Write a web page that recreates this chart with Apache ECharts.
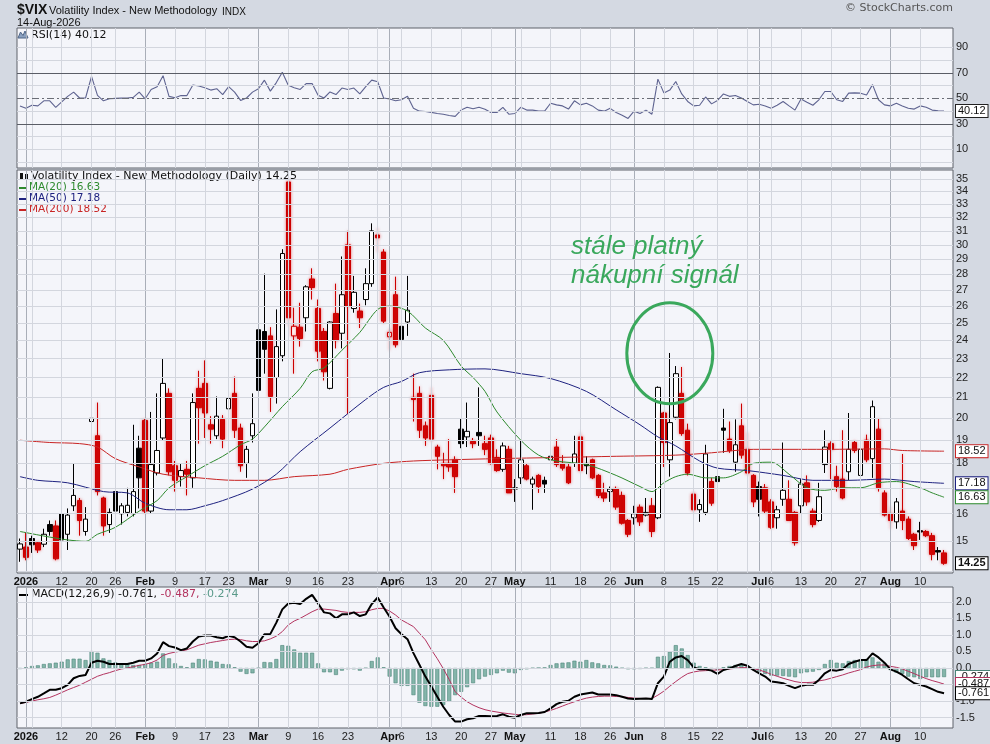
<!DOCTYPE html>
<html><head><meta charset="utf-8">
<script src="https://cdn.jsdelivr.net/npm/echarts@6/dist/echarts.min.js"></script>
<style>html,body{margin:0;padding:0;background:#d4d9e2;}#c{width:990px;height:744px;}</style>
</head><body><div id="c"></div>
<script>
// ---------- categories (trading days) ----------
const holidays = ['2026-01-01','2026-01-19','2026-02-16','2026-04-03','2026-05-25','2026-06-19','2026-07-03'];
const dates = [];
for (let t = Date.UTC(2025, 11, 31); t <= Date.UTC(2026, 7, 14); t += 86400000) {
  const d = new Date(t), wd = d.getUTCDay(), s = d.toISOString().slice(0, 10);
  if (wd === 0 || wd === 6 || holidays.indexOf(s) >= 0) continue;
  dates.push(s);
}
// ---------- tick labels ----------
const tickDates = ['2026-01-02','2026-01-12','2026-01-20','2026-01-26','2026-02-02','2026-02-09','2026-02-17','2026-02-23','2026-03-02','2026-03-09','2026-03-16','2026-03-23','2026-04-01','2026-04-06','2026-04-13','2026-04-20','2026-04-27','2026-05-01','2026-05-11','2026-05-18','2026-05-26','2026-06-01','2026-06-08','2026-06-15','2026-06-22','2026-07-01','2026-07-06','2026-07-13','2026-07-20','2026-07-27','2026-08-03','2026-08-10'];
const tickTexts = ['2026','12','20','26','Feb','9','17','23','Mar','9','16','23','Apr','6','13','20','27','May','11','18','26','Jun','8','15','22','Jul','6','13','20','27','Aug','10'];
const priceTicks = [14,15,16,17,18,19,20,21,22,23,24,25,26,27,28,29,30,31,32,33,34,35];
const priceLabelsHidden = [14,17];
const rsiTicks = [0,10,20,30,40,50,60,70,80,90];
const rsiLabels = [10,30,50,70,90];
const macdTicks = [-1.5,-1.0,-0.5,0.0,0.5,1.0,1.5,2.0];
const macdLabelsHidden = [-0.5];

// ---------- price (OHLC) ----------
const opens = [
14.73,14.8,15.1,14.95,14.9,15.6,15.55,16.0,15.25,16.3,
16.5,15.35,19.85,19.2,16.6,15.6,16.85,16.0,16.05,16.0,
18.65,19.9,16.1,17.6,19.1,21.2,17.9,17.45,17.75,17.4,
21.45,21.7,19.7,19.2,19.95,20.45,21.2,19.55,18.0,19.2,
24.6,24.5,24.25,22.0,23.15,34.75,24.25,24.75,25.3,27.7,
25.85,24.5,21.45,25.55,24.4,30.0,25.85,25.7,26.4,27.4,
30.7,29.5,24.2,26.7,24.8,25.05,21.0,21.2,19.65,21.1,
18.7,18.0,18.0,18.15,19.5,19.15,18.95,19.35,18.85,19.1,
18.25,17.75,18.6,17.0,17.4,17.9,17.15,17.5,17.3,18.15,
18.7,18.0,17.85,18.0,19.15,18.0,18.15,17.5,16.8,16.85,
16.95,16.7,15.75,15.85,16.25,15.95,16.3,15.85,20.25,18.15,
20.05,21.2,19.45,16.75,16.15,16.05,17.25,17.45,19.55,19.05,
18.05,19.65,18.6,17.5,17.05,17.0,16.45,15.85,16.55,16.55,
16.05,16.3,17.2,16.1,15.75,17.95,18.85,17.45,17.35,17.65,
18.9,17.5,19.0,18.2,19.5,16.8,16.0,15.7,16.1,15.8,
15.25,15.38,15.35,15.2,14.68,14.6];
const highs = [
15.1,15.3,15.2,15.0,15.45,15.75,15.75,16.6,16.2,18.0,
16.6,16.25,20.9,20.75,16.65,16.2,17.35,16.4,17.0,19.7,
19.2,20.0,20.3,21.2,23.0,21.45,18.1,18.0,18.1,21.2,
22.35,22.9,20.1,21.05,20.15,21.95,22.05,19.75,18.75,21.2,
25.1,28.05,24.75,25.8,29.7,35.0,25.9,26.2,27.3,28.4,
26.4,24.7,25.1,27.4,29.2,31.0,27.9,26.15,28.4,31.55,
31.2,29.7,24.7,27.85,25.15,27.9,22.2,21.55,19.85,21.5,
18.8,18.45,19.05,18.3,20.0,20.75,19.1,21.5,19.2,19.25,
18.6,18.9,18.75,17.35,19.0,18.0,17.45,17.55,17.45,18.6,
19.05,18.35,18.0,19.2,19.35,18.3,18.2,17.55,17.2,17.05,
17.05,16.85,15.8,16.3,16.35,16.6,16.6,21.55,20.3,23.3,
22.6,22.55,19.75,16.85,16.55,18.8,17.4,17.85,20.45,19.85,
19.95,20.7,19.35,17.55,17.25,17.15,16.55,16.3,18.9,17.3,
16.1,17.35,17.5,16.2,17.2,19.45,18.95,17.9,19.45,20.25,
19.0,19.85,19.25,20.85,20.0,16.9,16.25,16.6,18.4,15.9,
15.3,15.7,15.4,15.3,14.8,14.7];
const lows = [
14.3,14.35,14.6,14.6,14.8,15.2,14.35,14.95,14.7,16.1,
15.2,15.2,18.55,16.7,15.2,15.3,15.85,15.6,15.9,15.9,
16.2,16.0,16.0,17.5,19.0,17.5,16.85,17.05,16.7,17.0,
18.85,19.1,18.85,19.05,18.65,20.0,19.1,17.65,17.4,18.9,
20.3,22.2,20.3,20.7,22.85,24.8,22.2,23.65,24.5,26.4,
22.85,21.85,21.4,23.55,23.55,20.2,25.6,24.7,26.05,27.2,
29.5,24.95,23.45,23.6,23.7,24.25,19.85,19.1,18.75,18.9,
17.75,17.35,17.65,16.8,18.65,18.7,18.65,18.75,18.35,17.95,
17.65,17.65,16.8,16.45,17.15,17.3,16.15,16.8,16.8,17.85,
17.85,17.7,17.15,17.85,17.65,17.55,17.35,16.6,16.45,16.45,
16.15,15.6,15.15,15.6,15.55,15.9,15.15,15.8,17.85,17.45,
19.95,19.2,17.5,16.05,15.7,15.95,16.3,16.45,18.45,18.45,
17.65,18.2,17.5,16.25,15.9,16.0,15.45,15.45,16.3,15.75,
14.85,16.0,16.3,15.5,15.7,17.6,17.35,16.85,16.55,17.3,
18.45,17.45,18.05,17.4,16.85,15.9,15.45,15.45,15.4,15.05,
14.7,15.05,15.15,14.35,14.35,14.2];
const closes = [
14.91,14.45,14.88,14.7,15.25,15.35,14.4,15.05,15.95,16.7,
15.75,15.8,20.0,16.85,15.55,16.05,16.1,16.3,16.32,16.85,
17.4,16.1,17.95,18.55,21.7,17.65,17.3,17.7,17.55,20.75,
20.5,20.25,19.5,20.1,19.05,20.95,19.45,17.9,18.6,19.75,
21.35,23.5,21.05,23.65,29.4,25.3,24.8,24.1,27.2,27.15,
23.4,22.3,25.05,24.0,26.7,26.0,26.85,25.3,27.4,31.0,
30.5,25.1,24.45,23.75,24.05,25.75,20.9,19.45,19.1,19.05,
18.3,17.9,17.85,17.45,18.85,19.4,18.85,19.2,18.6,18.0,
17.7,18.75,16.8,16.95,18.15,17.35,17.35,17.05,17.15,18.3,
17.95,17.8,17.2,18.4,17.7,17.9,17.4,16.7,16.6,16.95,
16.25,15.65,15.25,16.0,15.7,16.05,15.35,21.5,18.9,19.8,
22.2,19.3,17.6,16.15,16.35,18.4,16.4,17.25,19.45,18.55,
18.8,18.35,17.6,16.45,16.55,16.1,15.5,16.15,16.9,15.75,
14.95,17.15,16.45,15.6,16.65,18.7,18.6,17.05,16.6,18.6,
18.55,18.6,18.15,20.55,17.0,15.95,15.75,16.45,15.75,15.1,
14.85,15.33,15.2,14.55,14.63,14.25];

// ---------- moving averages (read at sample days: [dayIndex, value]) ----------
const ma20Pts = [[0,15.35],[5,15.15],[8,15.05],[11,15.0],[13,15.25],[16,15.5],[20,16.1],[23,16.5],[25,17.0],[28,17.45],[31,17.9],[34,18.3],[37,18.8],[39,19.05],[41,19.6],[44,20.55],[47,21.45],[49,22.3],[51,22.5],[54,23.45],[57,24.45],[60,25.8],[62,26.0],[65,25.7],[68,24.7],[71,24.0],[74,22.6],[76,22.0],[78,21.3],[80,20.3],[84,19.0],[87,18.35],[90,18.1],[95,17.95],[100,17.5],[104,17.05],[106,16.85],[108,17.2],[110,17.45],[112,17.55],[115,17.4],[118,17.4],[121,17.65],[123,18.0],[126,18.05],[129,17.55],[132,17.0],[135,16.9],[138,17.0],[141,17.0],[144,17.2],[147,17.25],[151,17.0],[153,16.8],[155,16.63]];
const ma50Pts = [[0,17.45],[3,17.3],[8,17.2],[14,16.85],[18,16.8],[21,16.4],[25,16.15],[28,16.15],[31,16.3],[34,16.5],[39,16.95],[43,17.55],[47,18.5],[52,19.55],[58,20.9],[61,21.5],[64,21.8],[67,22.25],[72,22.4],[78,22.45],[84,22.2],[89,21.95],[95,21.3],[100,20.4],[104,19.7],[107,19.15],[110,18.75],[114,18.1],[117,17.8],[122,17.7],[128,17.5],[133,17.3],[139,17.3],[145,17.35],[150,17.25],[155,17.18]];
const ma200Pts = [[0,19.0],[5,18.9],[10,18.85],[13,18.7],[16,18.2],[20,17.85],[24,17.55],[30,17.4],[36,17.3],[41,17.3],[46,17.45],[52,17.55],[55,17.75],[61,18.0],[66,18.1],[72,18.15],[80,18.2],[90,18.25],[100,18.3],[110,18.35],[116,18.45],[123,18.6],[135,18.6],[145,18.62],[148,18.55],[155,18.52]];

// ---------- RSI(14) ----------
const rsi = [
44.1,42.2,44.6,44.1,48.1,48.1,43.0,47.3,51.6,54.9,
50.3,50.3,67.3,52.4,48.1,49.7,50.0,50.2,50.3,50.8,
54.9,49.7,57.0,59.2,67.8,51.6,50.5,52.2,52.2,60.5,
59.7,58.4,56.5,57.6,53.0,59.2,54.9,48.4,50.3,54.9,
57.6,64.3,55.7,62.4,70.5,60.3,58.4,57.0,61.6,61.6,
52.4,50.3,55.1,53.0,58.1,57.0,58.1,53.5,59.2,64.3,
63.0,50.3,49.5,48.1,48.9,51.6,42.2,40.0,39.7,39.0,
38.2,37.5,36.6,35.9,40.8,43.0,41.9,43.0,41.4,38.9,
38.9,43.0,37.6,38.1,43.0,40.8,40.8,40.0,40.0,46.2,
44.9,44.1,41.6,48.1,44.9,46.2,44.1,40.8,40.0,42.2,
38.9,36.8,34.3,40.0,38.1,40.8,37.6,65.1,54.3,56.5,
63.2,53.5,47.6,44.1,44.6,51.1,45.7,48.4,53.5,51.6,
52.2,50.3,47.6,44.9,45.4,44.1,42.2,44.6,47.6,44.1,
40.8,49.5,47.0,44.6,48.9,55.4,55.4,48.9,47.6,54.1,
54.3,54.1,52.7,60.8,48.9,44.9,44.1,46.2,44.1,42.2,
41.6,44.1,43.0,40.8,40.3,40.12];

// ---------- MACD(12,26,9) ----------
const macd = [
-1.07,-1.02,-0.94,-0.87,-0.77,-0.66,-0.66,-0.61,-0.51,-0.31,
-0.24,-0.21,0.16,0.22,0.19,0.12,0.12,0.12,0.12,0.16,
0.22,0.22,0.29,0.44,0.78,0.66,0.62,0.54,0.59,0.80,
0.95,0.98,0.98,0.93,0.90,0.97,0.93,0.80,0.64,0.61,
0.75,1.02,1.03,1.37,1.77,1.95,1.97,1.93,2.09,2.21,
1.95,1.68,1.65,1.50,1.62,1.62,1.68,1.57,1.62,1.93,
2.13,1.83,1.55,1.20,1.02,0.87,0.45,0.10,-0.26,-0.56,
-0.87,-1.17,-1.42,-1.62,-1.62,-1.55,-1.52,-1.45,-1.45,-1.46,
-1.45,-1.40,-1.47,-1.50,-1.42,-1.37,-1.37,-1.36,-1.33,-1.22,
-1.09,-1.02,-0.99,-0.87,-0.80,-0.77,-0.74,-0.80,-0.80,-0.80,
-0.82,-0.87,-0.92,-0.94,-0.93,-0.92,-0.94,-0.46,-0.26,0.19,
0.32,0.36,0.24,0.02,-0.04,-0.04,-0.08,-0.18,-0.06,-0.01,
0.06,0.12,0.07,-0.06,-0.16,-0.26,-0.41,-0.43,-0.46,-0.54,
-0.61,-0.54,-0.51,-0.51,-0.36,-0.16,-0.06,-0.08,-0.04,0.12,
0.19,0.24,0.24,0.44,0.32,0.16,-0.04,-0.11,-0.21,-0.34,
-0.46,-0.51,-0.56,-0.64,-0.72,-0.761];
const signal = [
-1.07,-1.04,-1.00,-0.96,-0.93,-0.89,-0.82,-0.74,-0.66,-0.59,
-0.52,-0.43,-0.34,-0.25,-0.19,-0.14,-0.08,-0.03,0.00,0.04,
0.08,0.11,0.16,0.24,0.38,0.44,0.48,0.51,0.55,0.62,
0.69,0.73,0.77,0.80,0.83,0.86,0.87,0.86,0.82,0.80,
0.80,0.82,0.88,0.96,1.10,1.30,1.42,1.50,1.60,1.70,
1.78,1.78,1.76,1.74,1.70,1.68,1.68,1.68,1.70,1.76,
1.80,1.80,1.72,1.60,1.45,1.35,1.25,1.05,0.85,0.55,
0.28,-0.02,-0.35,-0.72,-0.88,-1.02,-1.12,-1.20,-1.26,-1.30,
-1.33,-1.36,-1.38,-1.40,-1.42,-1.41,-1.39,-1.37,-1.33,-1.28,
-1.22,-1.15,-1.08,-1.02,-0.96,-0.91,-0.88,-0.86,-0.85,-0.85,
-0.86,-0.87,-0.89,-0.91,-0.92,-0.92,-0.92,-0.82,-0.70,-0.55,
-0.41,-0.28,-0.17,-0.12,-0.09,-0.08,-0.07,-0.06,-0.05,-0.03,
-0.01,0.01,0.01,-0.02,-0.06,-0.12,-0.19,-0.25,-0.31,-0.36,
-0.41,-0.44,-0.44,-0.43,-0.39,-0.36,-0.31,-0.26,-0.21,-0.15,
-0.10,-0.05,0.03,0.07,0.09,0.09,0.05,0.02,-0.03,-0.10,
-0.17,-0.25,-0.32,-0.38,-0.43,-0.487];
const hist = [
-0.03,0.02,0.06,0.08,0.12,0.14,0.16,0.19,0.26,0.28,
0.28,0.24,0.51,0.46,0.29,0.24,0.17,0.14,0.12,0.09,
0.09,0.12,0.16,0.19,0.44,0.29,0.14,0.06,0.02,0.16,
0.27,0.26,0.22,0.19,0.12,0.11,0.02,-0.11,-0.18,-0.16,
-0.01,0.18,0.17,0.27,0.69,0.67,0.56,0.46,0.46,0.46,
0.14,-0.13,-0.13,-0.21,-0.08,-0.04,-0.04,-0.08,-0.01,0.21,
0.32,0.02,-0.26,-0.46,-0.54,-0.54,-0.82,-1.05,-1.15,-1.17,
-1.17,-1.12,-1.02,-0.82,-0.72,-0.58,-0.46,-0.34,-0.26,-0.21,
-0.16,-0.08,-0.14,-0.16,-0.06,-0.04,-0.01,0.00,0.01,0.09,
0.14,0.16,0.17,0.22,0.19,0.24,0.17,0.14,0.09,0.08,
0.04,-0.01,-0.04,-0.04,-0.03,-0.01,-0.01,0.34,0.36,0.49,
0.69,0.59,0.39,0.16,0.06,0.02,-0.04,-0.06,0.02,0.06,
0.09,0.10,0.04,-0.04,-0.11,-0.18,-0.23,-0.23,-0.24,-0.26,
-0.28,-0.16,-0.13,-0.11,-0.06,0.12,0.24,0.16,0.14,0.21,
0.24,0.24,0.27,0.32,0.19,0.14,-0.06,-0.14,-0.18,-0.26,
-0.28,-0.33,-0.28,-0.28,-0.28,-0.274];

// ---------- build ----------
const N = dates.length, L = N - 1;
const cats = dates.concat(['']);
const labelMap = {};
tickDates.forEach((d, k) => { labelMap[dates.indexOf(d)] = tickTexts[k]; });
const weekIdx = [], monthIdx = [];
for (let i = 1; i < N; i++) {
  const a = new Date(dates[i - 1] + 'T00:00:00Z'), b = new Date(dates[i] + 'T00:00:00Z');
  if (b.getUTCMonth() !== a.getUTCMonth()) monthIdx.push(i);
  else if (b.getUTCDay() <= a.getUTCDay()) weekIdx.push(i);
}
const LIGHT = '#d3d6de', MONTH = '#a9aeb8', FONT = 'Liberation Sans';
const RED = '#cc0000';

function vLines() {
  return weekIdx.map(i => ({ xAxis: dates[i], lineStyle: { color: LIGHT, width: 1, type: 'solid' }, label: { show: false } }))
    .concat(monthIdx.map(i => ({ xAxis: dates[i], lineStyle: { color: MONTH, width: 1, type: 'solid' }, label: { show: false } })));
}
function hLines(ticks, showLabel, fmt, styleFn) {
  return ticks.map(v => ({
    yAxis: v,
    lineStyle: styleFn ? styleFn(v) : { color: LIGHT, width: 1, type: 'solid' },
    label: { show: showLabel(v), position: 'end', distance: 3, formatter: fmt(v), color: '#222', fontSize: 11, fontFamily: FONT }
  }));
}
function gridSeries(xi, yi, hl) {
  return { type: 'line', xAxisIndex: xi, yAxisIndex: yi, data: [], z: 1, silent: true,
    markLine: { silent: true, symbol: ['none', 'none'], animation: false, precision: 4, data: vLines().concat(hl) } };
}
function tagSeries(xi, yi, tags) {
  return { type: 'line', xAxisIndex: xi, yAxisIndex: yi, data: [], z: 10, silent: true,
    markLine: { silent: true, symbol: ['none', 'none'], animation: false, precision: 4,
      data: tags.map(t => ({ yAxis: t.v, lineStyle: { color: 'rgba(0,0,0,0)', width: 1 },
        label: { show: true, position: 'end', distance: 3, formatter: t.text, color: '#111', fontSize: 11, fontFamily: FONT,
          fontWeight: t.bold ? 'bold' : 'normal', backgroundColor: '#fff', borderColor: t.c, borderWidth: 1,
          padding: [1, 2, 0, 2], opacity: 1 } })) } };
}

const candleData = dates.map((d, i) => {
  const up = closes[i] > opens[i];
  const isRed = !(i === 0 || closes[i] >= closes[i - 1]);
  const col = isRed ? RED : '#000';
  const glow = isRed ? { shadowBlur: 3, shadowColor: 'rgba(230,40,40,0.55)' } : {};
  return { value: [opens[i], closes[i], lows[i], highs[i]],
    itemStyle: Object.assign(up ? { color: '#fff', borderColor: col, borderWidth: 1 }
                                : { color0: col, borderColor0: col, borderWidth: 1 }, glow) };
});

function xAxisFor(g, show) {
  return { type: 'category', gridIndex: g, data: cats, boundaryGap: true,
    axisLine: { show: false }, axisTick: { show: false }, splitLine: { show: false },
    axisLabel: show ? { show: true, interval: (i) => labelMap[i] !== undefined,
      formatter: (v, i) => { const t = labelMap[i]; return (t && /^\d{1,2}$/.test(t)) ? t : '{b|' + t + '}'; },
      margin: 3, fontSize: 11, fontFamily: FONT, color: '#222',
      rich: { b: { fontWeight: 'bold', fontSize: 11, fontFamily: FONT, color: '#111' } } } : { show: false } };
}

const gridStyle = { show: true, backgroundColor: '#f4f5fa', borderColor: '#5e626b', borderWidth: 1 };
const chart = echarts.init(document.getElementById('c'));
const option = {
  animation: false,
  backgroundColor: '#d4d9e2',
  grid: [
    Object.assign({ left: 17, right: 37, top: 28, height: 140 }, gridStyle),
    Object.assign({ left: 17, right: 37, top: 170, height: 403 }, gridStyle),
    Object.assign({ left: 17, right: 37, top: 587, height: 141 }, gridStyle)
  ],
  xAxis: [xAxisFor(0, false), xAxisFor(1, true), xAxisFor(2, true)],
  yAxis: [
    { type: 'value', gridIndex: 0, min: -4.6, max: 105.2, show: false },
    { type: 'log', logBase: 10, gridIndex: 1, min: 13.93, max: 35.74, show: false },
    { type: 'value', gridIndex: 2, min: -1.813, max: 2.447, show: false }
  ],
  series: [
    gridSeries(0, 0, hLines(rsiTicks, v => rsiLabels.indexOf(v) >= 0, v => String(v), v =>
      (v === 30 || v === 70) ? { color: '#5a5d66', width: 1, type: 'solid' }
      : (v === 50 ? { color: '#6a6d76', width: 1, type: [7, 3, 2, 3] } : { color: LIGHT, width: 1, type: 'solid' }))),
    { type: 'line', name: 'RSI', xAxisIndex: 0, yAxisIndex: 0, data: rsi, symbol: 'none', z: 3,
      lineStyle: { color: '#5e6390', width: 1.1 } },
    tagSeries(0, 0, [{ v: rsi[L], text: rsi[L].toFixed(2), c: '#222' }]),

    gridSeries(1, 1, hLines(priceTicks, v => priceLabelsHidden.indexOf(v) < 0, v => String(v))),
    { type: 'candlestick', xAxisIndex: 1, yAxisIndex: 1, data: candleData, barWidth: 5, z: 3 },
    { type: 'line', name: 'MA200', xAxisIndex: 1, yAxisIndex: 1, data: ma200Pts, symbol: 'none', smooth: 0.3, z: 4, lineStyle: { color: '#c82424', width: 1 } },
    { type: 'line', name: 'MA50', xAxisIndex: 1, yAxisIndex: 1, data: ma50Pts, symbol: 'none', smooth: 0.3, z: 4, lineStyle: { color: '#1e2280', width: 1 } },
    { type: 'line', name: 'MA20', xAxisIndex: 1, yAxisIndex: 1, data: ma20Pts, symbol: 'none', smooth: 0.3, z: 4, lineStyle: { color: '#2e8a2e', width: 1 } },
    tagSeries(1, 1, [
      { v: ma200Pts[ma200Pts.length - 1][1], text: ma200Pts[ma200Pts.length - 1][1].toFixed(2), c: '#c82424' },
      { v: ma50Pts[ma50Pts.length - 1][1], text: ma50Pts[ma50Pts.length - 1][1].toFixed(2), c: '#1e2280' },
      { v: ma20Pts[ma20Pts.length - 1][1], text: ma20Pts[ma20Pts.length - 1][1].toFixed(2), c: '#2e8a2e' },
      { v: closes[L], text: closes[L].toFixed(2), c: '#000', bold: true }
    ]),

    gridSeries(2, 2, hLines(macdTicks, v => macdLabelsHidden.indexOf(v) < 0, v => v.toFixed(1))),
    { type: 'bar', xAxisIndex: 2, yAxisIndex: 2, data: hist, barWidth: 4, z: 2,
      itemStyle: { color: '#84b5aa', borderColor: '#4c8478', borderWidth: 0.6 } },
    { type: 'line', xAxisIndex: 2, yAxisIndex: 2, data: signal, symbol: 'none', z: 3, lineStyle: { color: '#b3335f', width: 1 } },
    { type: 'line', xAxisIndex: 2, yAxisIndex: 2, data: macd, symbol: 'none', z: 4, lineStyle: { color: '#000', width: 2 } },
    tagSeries(2, 2, [
      { v: hist[L], text: hist[L].toFixed(3), c: '#4c8478' },
      { v: signal[L], text: signal[L].toFixed(3), c: '#b3335f' },
      { v: macd[L], text: macd[L].toFixed(3), c: '#000' }
    ])
  ]
};
chart.setOption(option);

// ---------- texts & annotation ----------
const cPt = chart.convertToPixel({ xAxisIndex: 1, yAxisIndex: 1 }, [dates[109], 23.28]);
const t1 = chart.convertToPixel({ xAxisIndex: 1, yAxisIndex: 1 }, [dates[92], 29.85]);
const t2 = chart.convertToPixel({ xAxisIndex: 1, yAxisIndex: 1 }, [dates[92], 27.9]);
const G = '#3aa85c';
chart.setOption({ graphic: [
  { type: 'text', left: 17, top: 3, style: { text: '$VIX', font: 'bold 14px "Liberation Sans"', fill: '#111' } },
  { type: 'text', left: 49, top: 5, style: { text: 'Volatility Index - New Methodology', font: '11px "Liberation Sans"', fill: '#111' } },
  { type: 'text', left: 222, top: 7, style: { text: 'INDX', font: '10px "Liberation Sans"', fill: '#111' } },
  { type: 'text', left: 17, top: 17, style: { text: '14-Aug-2026', font: '11px "Liberation Sans"', fill: '#111' } },
  { type: 'text', right: 37, top: 3, style: { text: '\u00A9 StockCharts.com', font: '11px "DejaVu Sans"', fill: '#555' } },
  // RSI legend
  { type: 'polygon', shape: { points: [[18, 38], [20.5, 32], [23, 35.5], [25, 31], [28, 38]] }, style: { fill: '#8aa0bf', stroke: '#4f6688', lineWidth: 1 } },
  { type: 'text', left: 31, top: 30, style: { text: 'RSI(14) ' + rsi[L].toFixed(2), font: '11px "DejaVu Sans"', fill: '#111' } },
  // price legend
  { type: 'rect', shape: { x: 20, y: 173, width: 3, height: 7 }, style: { fill: '#111' } },
  { type: 'rect', shape: { x: 25, y: 174, width: 3, height: 6 }, style: { fill: '#111' } },
  { type: 'text', left: 31, top: 171, style: { text: 'Volatility Index - New Methodology (Daily) ' + closes[L].toFixed(2), font: '11px "DejaVu Sans"', fill: '#111' } },
  { type: 'rect', shape: { x: 19, y: 187, width: 8, height: 2 }, style: { fill: '#2e8a2e' } },
  { type: 'text', left: 29, top: 182, style: { text: 'MA(20) ' + ma20Pts[ma20Pts.length - 1][1].toFixed(2), font: '10.5px "DejaVu Sans"', fill: '#2e8a2e' } },
  { type: 'rect', shape: { x: 19, y: 198, width: 8, height: 2 }, style: { fill: '#1e2280' } },
  { type: 'text', left: 29, top: 193, style: { text: 'MA(50) ' + ma50Pts[ma50Pts.length - 1][1].toFixed(2), font: '10.5px "DejaVu Sans"', fill: '#1e2280' } },
  { type: 'rect', shape: { x: 19, y: 209, width: 8, height: 2 }, style: { fill: '#c82424' } },
  { type: 'text', left: 29, top: 204, style: { text: 'MA(200) ' + ma200Pts[ma200Pts.length - 1][1].toFixed(2), font: '10.5px "DejaVu Sans"', fill: '#c82424' } },
  // MACD legend
  { type: 'rect', shape: { x: 19, y: 594, width: 9, height: 2 }, style: { fill: '#000' } },
  { type: 'text', left: 31, top: 589, style: {
      text: '{k|MACD(12,26,9) ' + macd[L].toFixed(3) + ', }{r|' + signal[L].toFixed(3) + ', }{g|' + hist[L].toFixed(3) + '}',
      font: '11px "DejaVu Sans"', fill: '#111',
      rich: { k: { fill: '#111', font: '11px "DejaVu Sans"' }, r: { fill: '#b3335f', font: '11px "DejaVu Sans"' }, g: { fill: '#5a9a8a', font: '11px "DejaVu Sans"' } } } },
  // annotation
  { type: 'text', x: t1[0] + 2.5, y: t1[1], z: 50, style: { text: 'stále platný', font: 'italic 26px "Liberation Sans"', fill: G, verticalAlign: 'middle' } },
  { type: 'text', x: t2[0] + 2.5, y: t2[1], z: 50, style: { text: 'nákupní signál', font: 'italic 26px "Liberation Sans"', fill: G, verticalAlign: 'middle' } },
  { type: 'ellipse', z: 50, shape: { cx: cPt[0], cy: cPt[1], rx: 43, ry: 50.5 }, style: { fill: 'none', stroke: G, lineWidth: 3 } }
] });
</script>
</body></html>
